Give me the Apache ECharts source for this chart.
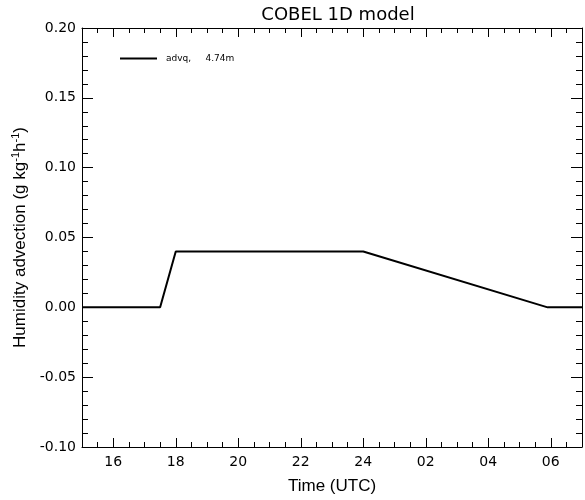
<!DOCTYPE html>
<html><head><meta charset="utf-8">
<script src="https://cdn.jsdelivr.net/npm/echarts@6/dist/echarts.min.js"></script>
<style>html,body{margin:0;padding:0;background:#fff}#c{width:585px;height:500px}</style>
</head><body><div id="c"></div>
<script>
const titleText = 'COBEL 1D model';
const seriesName = 'advq,     4.74m';
const timeHours = [15, 17.5, 18, 24, 29.9, 31];
const advq = [0, 0, 0.04, 0.04, 0, 0];
const xTickValues = [16, 18, 20, 22, 24, 26, 28, 30];
const xTickLabels = ['16', '18', '20', '22', '24', '02', '04', '06'];
const yTickValues = [-0.10, -0.05, 0.00, 0.05, 0.10, 0.15, 0.20];
const yTickLabels = ['-0.10', '-0.05', '0.00', '0.05', '0.10', '0.15', '0.20'];

const chart = echarts.init(document.getElementById('c'), null, {renderer: 'canvas'});
const font = 'Liberation Sans';
const tfont = 'DejaVu Sans';
function xFmt(v){ const i = xTickValues.findIndex(t => Math.abs(t - v) < 1e-6); return i >= 0 ? xTickLabels[i] : ''; }
function yFmt(v){ const i = yTickValues.findIndex(t => Math.abs(t - v) < 1e-6); return i >= 0 ? yTickLabels[i] : ''; }
const lineOn = {show: true, onZero: false, lineStyle: {color: '#000', width: 1}};
const lineOff = {show: false, onZero: false};
function xMajor(pos, withLabels){
  return {type: 'value', position: pos, min: 15, max: 31, interval: 0.5, splitLine: {show: false}, axisLine: lineOn,
    axisTick: {show: true, inside: true, length: 9, customValues: xTickValues, lineStyle: {color: '#000'}},
    axisLabel: withLabels ? {show: true, customValues: xTickValues, formatter: xFmt, margin: 8,
      fontFamily: tfont, fontSize: 14, color: '#000'} : {show: false}};
}
function xMinor(pos){
  return {type: 'value', position: pos, min: 15, max: 31, interval: 0.5, splitLine: {show: false}, axisLine: lineOff,
    axisTick: {show: true, inside: true, length: 5, lineStyle: {color: '#000'}}, axisLabel: {show: false}};
}
function yAx(pos, withLabels){
  return {type: 'value', position: pos, min: -0.10, max: 0.20, interval: 0.05, splitLine: {show: false}, axisLine: lineOn,
    axisTick: {show: true, inside: true, length: 11, lineStyle: {color: '#000'}},
    minorTick: {show: true, splitNumber: 5, length: 6, lineStyle: {color: '#000'}},
    axisLabel: withLabels ? {show: true, formatter: yFmt, margin: 6, fontFamily: tfont, fontSize: 14, color: '#000'} : {show: false}};
}
const xBottom = xMajor('bottom', true);
xBottom.name = 'Time (UTC)';
xBottom.nameLocation = 'middle';
xBottom.nameGap = 31;
xBottom.nameTextStyle = {fontFamily: font, fontSize: 17, color: '#000'};
const yLeft = yAx('left', true);
yLeft.name = '{a|Humidity advection (g kg}{s|-1}{a|h}{s|-1}{a|)}';
yLeft.nameLocation = 'middle';
yLeft.nameGap = 39;
yLeft.nameTextStyle = {color: '#000', rich: {
  a: {fontFamily: font, fontSize: 17, color: '#000', lineHeight: 20},
  s: {fontFamily: font, fontSize: 11, color: '#000', verticalAlign: 'top', lineHeight: 20, padding: [0,0,7,0]}}};

chart.setOption({
  animation: false,
  backgroundColor: '#fff',
  title: {text: titleText, left: 333, top: 1, textAlign: 'center',
    textStyle: {fontFamily: tfont, fontSize: 18, fontWeight: 'normal', color: '#000'}},
  grid: {left: 82, right: 3, top: 28, bottom: 44, containLabel: false},
  legend: {left: 120, top: 54, padding: 0, itemWidth: 37, itemHeight: 2, icon: 'rect',
    data: [{name: seriesName}],
    textStyle: {fontFamily: tfont, fontSize: 9, color: '#000', padding: [0, 0, 0, 4]}},
  xAxis: [xBottom, xMajor('top', false), xMinor('bottom'), xMinor('top')],
  yAxis: [yLeft, yAx('right', false)],
  series: [{
    name: seriesName, type: 'line', symbol: 'none', xAxisIndex: 0, yAxisIndex: 0,
    data: timeHours.map((t, i) => [t, advq[i]]),
    lineStyle: {color: '#000', width: 2}, itemStyle: {color: '#000'}
  }]
});
</script></body></html>
